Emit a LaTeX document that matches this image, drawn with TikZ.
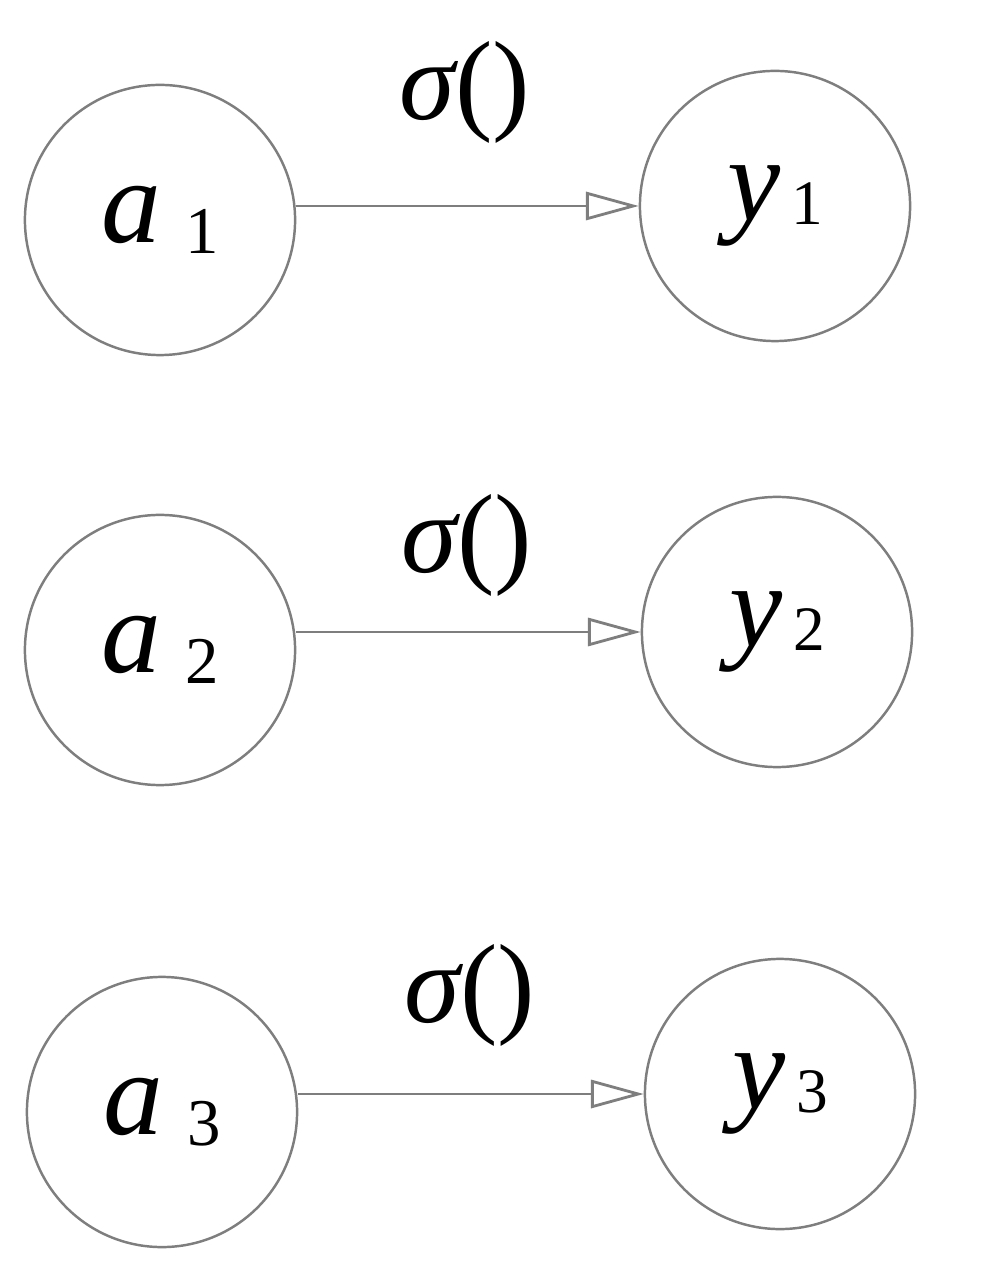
\documentclass[tikz,border=0pt]{standalone}
\usepackage{fontspec}
\setmainfont{Liberation Serif}
\usetikzlibrary{arrows.meta}
\definecolor{linegray}{HTML}{7E7E7E}
\tikzset{
  unitcircle/.style={circle, draw=linegray, line width=0.7pt, minimum size=2.7cm, inner sep=0pt},
  conn/.style={draw=linegray, line width=0.8pt, -{Triangle[open, length=15pt, width=8pt]}},
  siglabel/.style={inner sep=0pt, font=\fontsize{32}{32}\selectfont}
}
\newcommand{\bigvar}[2]{{\fontsize{34}{34}\selectfont\itshape #1}\hspace{7pt}\raisebox{-3pt}{\fontsize{19}{19}\selectfont #2}}
\newcommand{\yvar}[2]{{\fontsize{34}{34}\selectfont\itshape #1}\hspace{3pt}\raisebox{-1pt}{\fontsize{18}{18}\selectfont #2}}
\begin{document}
\begin{tikzpicture}[x=0.01cm, y=-0.01cm]
\useasboundingbox (0,0) rectangle (1000,1274);
\node[unitcircle] (a1) at (160,220) {\bigvar{a}{1}};
\node[unitcircle] (y1) at (775,206) {\yvar{y}{1}};
\node[unitcircle] (a2) at (160,650) {\bigvar{a}{2}};
\node[unitcircle] (y2) at (777,632) {\yvar{y}{2}};
\node[unitcircle] (a3) at (162,1112) {\bigvar{a}{3}};
\node[unitcircle] (y3) at (780,1094) {\yvar{y}{3}};
\node[siglabel] (s1) at (465,92) {\itshape σ\upshape()};
\node[siglabel] (s2) at (467,545) {\itshape σ\upshape()};
\node[siglabel] (s3) at (470,995) {\itshape σ\upshape()};
\draw[conn] (y1.west -| a1.east) -- (y1.west);
\draw[conn] (y2.west -| a2.east) -- (y2.west);
\draw[conn] (y3.west -| a3.east) -- (y3.west);
\end{tikzpicture}
\end{document}
